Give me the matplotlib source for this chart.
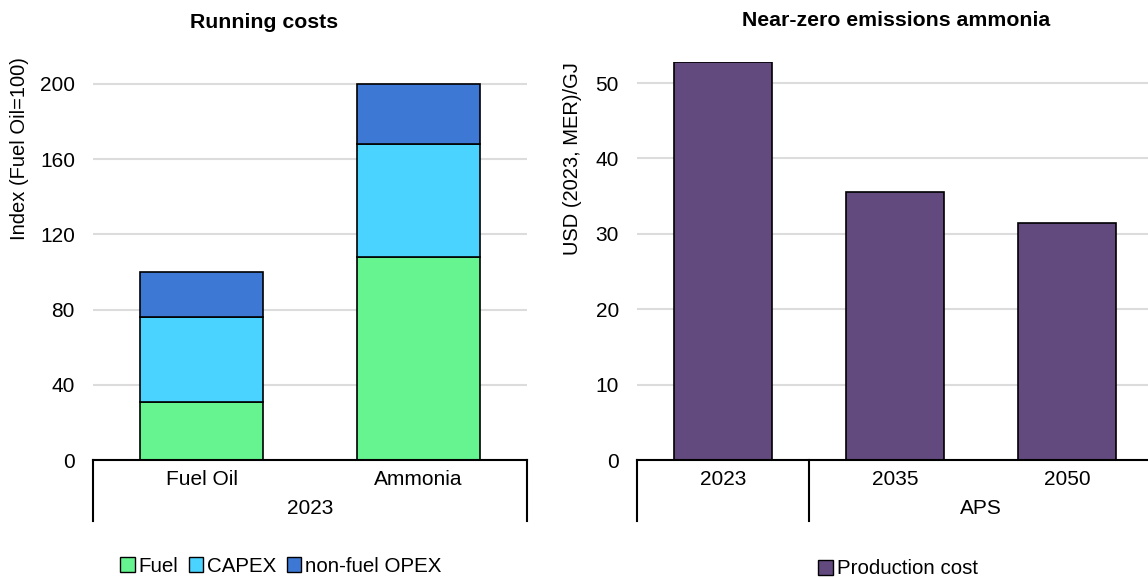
import matplotlib
matplotlib.use('Agg')
import matplotlib.pyplot as plt
from matplotlib.patches import Patch

plt.rcParams['font.family'] = ['Liberation Sans', 'DejaVu Sans']
plt.rcParams['font.size'] = 15

# left panel: running costs index
run_cats = ['Fuel Oil', 'Ammonia']
run_group = '2023'
fuel = [31, 108]
capex = [45, 60]
opex = [24, 32]

# right panel: near-zero emissions ammonia production cost
nh3_cats = ['2023', '2035', '2050']
nh3_groups = [('', 0, 0), ('APS', 1, 2)]
prod_cost = [52.8, 35.6, 31.5]

c_fuel = '#66F490'
c_capex = '#4BD3FF'
c_opex = '#3D78D4'
c_prod = '#634A7E'
grid_c = '#dcdcdc'

W, H = 1148, 578
fig = plt.figure(figsize=(W / 100, H / 100), dpi=100)

def px_axes(x0, x1, y0, y1):
    return fig.add_axes([x0 / W, 1 - y1 / H, (x1 - x0) / W, (y1 - y0) / H])

ax1 = px_axes(93, 527, 62, 460)
ax2 = px_axes(637, 1153, 62, 460)

def style_axes(ax, ymax, yticks, ncat):
    ax.set_ylim(0, ymax)
    ax.set_xlim(-0.5, ncat - 0.5)
    ax.set_yticks(yticks)
    ax.yaxis.grid(True, color=grid_c, linewidth=1.5)
    ax.set_axisbelow(True)
    for s in ['top', 'right', 'left']:
        ax.spines[s].set_visible(False)
    ax.spines['bottom'].set_linewidth(1.5)
    ax.tick_params(axis='y', length=0, pad=13)
    ax.tick_params(axis='x', length=0, pad=7)

# left
x1 = range(len(run_cats))
bw = 0.57
ax1.bar(x1, fuel, bw, color=c_fuel, edgecolor='black', linewidth=1.2)
ax1.bar(x1, capex, bw, bottom=fuel, color=c_capex, edgecolor='black', linewidth=1.2)
bot2 = [a + b for a, b in zip(fuel, capex)]
ax1.bar(x1, opex, bw, bottom=bot2, color=c_opex, edgecolor='black', linewidth=1.2)
style_axes(ax1, 211.7, [0, 40, 80, 120, 160, 200], len(run_cats))
ax1.set_xticks(list(x1))
ax1.set_xticklabels(run_cats)

h1 = 398
trans1 = ax1.get_xaxis_transform()
for xv in [-0.5, len(run_cats) - 0.5]:
    ax1.plot([xv, xv], [0, -61 / h1], color='black', lw=1.5, transform=trans1, clip_on=False)
ax1.text((len(run_cats) - 1) / 2, -48 / h1, run_group, transform=trans1, ha='center', va='center')

# right
x2 = range(len(nh3_cats))
ax2.bar(x2, prod_cost, 0.575, color=c_prod, edgecolor='black', linewidth=1.2)
style_axes(ax2, 52.8, [0, 10, 20, 30, 40, 50], len(nh3_cats))
ax2.set_xticks(list(x2))
ax2.set_xticklabels(nh3_cats)

trans2 = ax2.get_xaxis_transform()
for xv in [-0.5, 0.5, len(nh3_cats) - 0.5]:
    ax2.plot([xv, xv], [0, -61 / h1], color='black', lw=1.5, transform=trans2, clip_on=False)
for name, i0, i1 in nh3_groups:
    if name:
        ax2.text((i0 + i1) / 2, -48 / h1, name, transform=trans2, ha='center', va='center')

# titles and y labels
fig.text(264 / W, 1 - 22 / H, 'Running costs', ha='center', va='center', fontweight='bold', fontsize=15.3)
fig.text(896 / W, 1 - 20 / H, 'Near-zero emissions ammonia', ha='center', va='center', fontweight='bold', fontsize=15.3)
fig.text(20 / W, 1 - 57 / H, 'Index (Fuel Oil=100)', rotation=90, ha='center', va='top', fontsize=14.5)
fig.text(572 / W, 1 - 62 / H, 'USD (2023, MER)/GJ', rotation=90, ha='center', va='top', fontsize=14.5)

# legends
leg_kw = dict(frameon=False, handlelength=0.7, handleheight=0.7, handletextpad=0.2,
              columnspacing=0.5, borderaxespad=0, loc='center', fontsize=14.8)
fig.legend(handles=[Patch(facecolor=c_fuel, edgecolor='black', label='Fuel'),
                    Patch(facecolor=c_capex, edgecolor='black', label='CAPEX'),
                    Patch(facecolor=c_opex, edgecolor='black', label='non-fuel OPEX')],
           ncol=3, bbox_to_anchor=(281 / W, 1 - 566 / H), **leg_kw)
fig.legend(handles=[Patch(facecolor=c_prod, edgecolor='black', label='Production cost')],
           ncol=1, bbox_to_anchor=(898 / W, 1 - 569 / H), **leg_kw)

fig.savefig('out.png', dpi=100)
